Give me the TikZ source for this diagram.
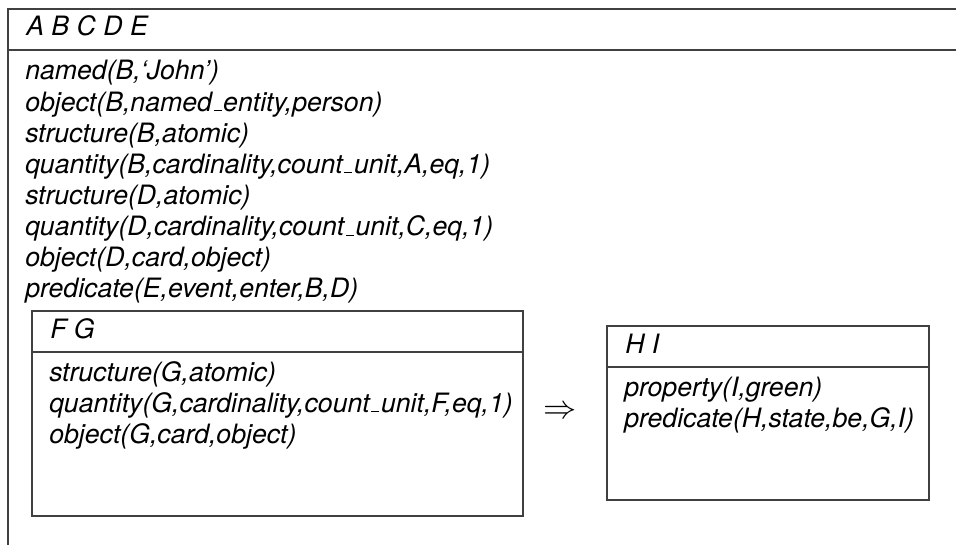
\documentclass[tikz,border=0pt]{standalone}
\usepackage{fontspec}
\setmainfont{TeX Gyre Heros}
\newcommand\usc{\kern.06em\rule{0.3em}{0.7pt}\kern.06em}
\begin{document}
\begin{tikzpicture}[x=0.75pt,y=-0.75pt,
  frame/.style={draw=black!75,line width=0.9pt},
  txt/.style={anchor=base west,inner sep=0pt,font=\fontsize{20}{24}\selectfont\itshape},
  sym/.style={inner sep=0pt,font=\fontsize{26}{30}\selectfont}]
\useasboundingbox (0,0) rectangle (956,545);
% outer box (open to the right and bottom)
\draw[frame] (956,9) -- (8,9) -- (8,545);
\draw[frame] (8,50) -- (956,50);
\node[txt] (hA) at (26,36) {A B C D E};
\node[txt] (l1) at (25,80) {named(B,‘John’)};
\node[txt] (l2) at (25,111.1) {object(B,named\usc entity,person)};
\node[txt] (l3) at (25,142.2) {structure(B,atomic)};
\node[txt] (l4) at (25,173.3) {quantity(B,cardinality,count\usc unit,A,eq,1)};
\node[txt] (l5) at (25,204.4) {structure(D,atomic)};
\node[txt] (l6) at (25,235.5) {quantity(D,cardinality,count\usc unit,C,eq,1)};
\node[txt] (l7) at (25,266.6) {object(D,card,object)};
\node[txt] (l8) at (25,297.7) {predicate(E,event,enter,B,D)};
% inner box F G
\draw[frame] (32,311) rectangle (523,516);
\draw[frame] (32,352) -- (523,352);
\node[txt] (hF) at (50,338) {F G};
\node[txt] (f1) at (49,381) {structure(G,atomic)};
\node[txt] (f2) at (49,412.1) {quantity(G,cardinality,count\usc unit,F,eq,1)};
\node[txt] (f3) at (49,443.2) {object(G,card,object)};
% implication
\node[sym] (imp) at (560,412) {$\Rightarrow$};
% inner box H I
\draw[frame] (607,326) rectangle (929,500);
\draw[frame] (607,367) -- (929,367);
\node[txt] (hH) at (625,353) {H I};
\node[txt] (h1) at (624,396) {property(I,green)};
\node[txt] (h2) at (624,427.1) {predicate(H,state,be,G,I)};
\end{tikzpicture}
\end{document}
